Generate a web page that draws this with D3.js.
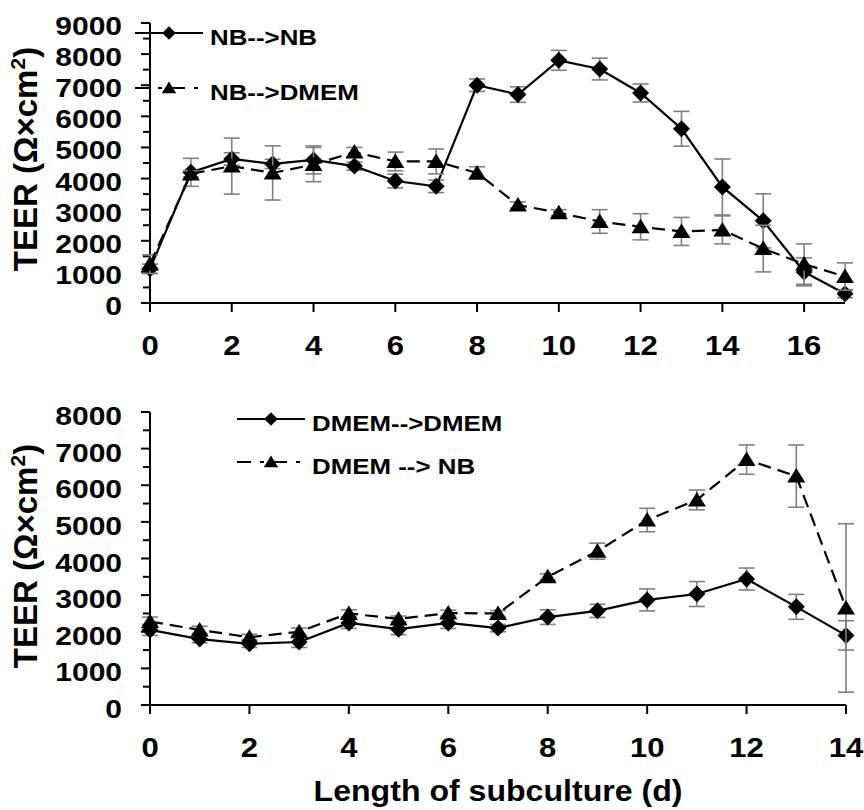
<!DOCTYPE html>
<html>
<head>
<meta charset="utf-8">
<script src="https://cdn.jsdelivr.net/npm/d3@7"></script>
<style>
  body { margin: 0; background: #fff; }
  text { font-family: "Liberation Sans", Arial, sans-serif; font-weight: bold; fill: #000; }
</style>
</head>
<body>
<svg id="chart" width="864" height="810"></svg>
<script>
// ---- data ----
var daysTop = d3.range(0, 18);
var nbNb      = [1100, 4200, 4630, 4470, 4600, 4400, 3920, 3750, 7000, 6700, 7800, 7520, 6750, 5600, 3730, 2640, 1000, 300];
var nbNbErr   = [150, 450, 200, 150, 450, 130, 220, 200, 200, 250, 320, 350, 290, 560, 900, 870, 450, 130];
var nbDmem    = [1250, 4150, 4400, 4180, 4450, 4850, 4550, 4550, 4180, 3150, 2900, 2620, 2450, 2300, 2350, 1750, 1250, 850];
var nbDmemErr = [300, 100, 900, 870, 550, 150, 300, 400, 200, 100, 100, 380, 420, 450, 450, 750, 650, 440];

var daysBottom = d3.range(0, 15);
var dmemDmem    = [2050, 1800, 1670, 1720, 2240, 2070, 2240, 2100, 2400, 2570, 2870, 3030, 3440, 2680, 1900];
var dmemDmemErr = [150, 100, 100, 150, 150, 150, 150, 100, 200, 180, 300, 340, 300, 340, 400];
var dmemNb      = [2280, 2050, 1850, 2000, 2500, 2350, 2510, 2500, 3500, 4200, 5050, 5600, 6700, 6250, 2650];
var dmemNbErr   = [120, 100, 80, 100, 100, 80, 80, 80, 80, 220, 320, 270, 400, 850, 2300];

var xTicksTop = [0, 2, 4, 6, 8, 10, 12, 14, 16];
var xTicksBottom = [0, 2, 4, 6, 8, 10, 12, 14];
var legendTop = ["NB-->NB", "NB-->DMEM"];
var legendBottom = ["DMEM-->DMEM", "DMEM --> NB"];
var xTitle = "Length of subculture (d)";

var svg = d3.select("#chart");

// diamond / triangle marker paths
var diamond = "M0,-8.5L8.5,0L0,8.5L-8.5,0Z";
var triangle = "M0,-8L9,6.5L-9,6.5Z";

//stretched text helper (the picture's text is wider than plain Arial)
function label(g, x, y, str, size, sx, anchor) {
  return g.append("text")
    .attr("transform", "translate(" + x + "," + y + ") scale(" + sx + ",1)")
    .attr("text-anchor", anchor)
    .style("font-size", size + "px")
    .text(str);
}

function yTitle(g, x, y) {
  var t = g.append("text")
    .attr("transform", "translate(" + x + "," + y + ") rotate(-90)")
    .attr("text-anchor", "middle")
    .style("font-size", "33px");
  t.append("tspan").text("TEER (Ω×cm");
  t.append("tspan").attr("dy", "-12").style("font-size", "21px").text("2");
  t.append("tspan").attr("dy", "12").text(")");
}

function drawPanel(p) {
  var g = svg.append("g");
  var x = d3.scaleLinear().domain([0, p.xMax]).range([150, p.xRight]);
  var y = d3.scaleLinear().domain([0, p.yMax]).range([p.y0, p.yTop]);

  // y axis
  g.append("line").attr("x1", 150).attr("x2", 150)
    .attr("y1", y(p.yMax)).attr("y2", p.y0 + 9)
    .attr("stroke", "#000").attr("stroke-width", 2);
  var minor = d3.range(0, p.yMax + 1, 500);
  g.selectAll(".ytick").data(minor).enter().append("line")
    .attr("x1", function(d) { return d % 1000 === 0 ? 141 : 143; })
    .attr("x2", 150)
    .attr("y1", function(d) { return y(d); })
    .attr("y2", function(d) { return y(d); })
    .attr("stroke", "#000").attr("stroke-width", 2);
  d3.range(0, p.yMax + 1, 1000).forEach(function(v) {
    label(g, 122, y(v) + p.yLabDy, v, 25, 1.2, "end");
  });

  // x axis
  g.append("line").attr("x1", 141).attr("x2", x(p.xMax))
    .attr("y1", p.y0).attr("y2", p.y0)
    .attr("stroke", "#000").attr("stroke-width", 2);
  g.selectAll(".xtick").data(p.xTicks).enter().append("line")
    .attr("x1", function(d) { return x(d); })
    .attr("x2", function(d) { return x(d); })
    .attr("y1", p.y0).attr("y2", p.y0 + 9)
    .attr("stroke", "#000").attr("stroke-width", 2);
  p.xTicks.forEach(function(d) {
    label(g, x(d), p.y0 + 52, d, 27, 1.15, "middle");
  });

  yTitle(g, 37, p.titleY);

  p.series.forEach(function(s) {
    var pts = p.days.map(function(d, i) { return {d: d, v: s.vals[i], e: s.err[i]}; });

    // error bars
    var eb = g.append("g").attr("stroke", "#808080").attr("stroke-width", 1.6);
    pts.forEach(function(pt) {
      var cx = x(pt.d), hi = y(pt.v + pt.e), lo = y(Math.max(pt.v - pt.e, 0));
      eb.append("line").attr("x1", cx).attr("x2", cx).attr("y1", hi).attr("y2", lo);
      eb.append("line").attr("x1", cx - 8).attr("x2", cx + 8).attr("y1", hi).attr("y2", hi);
      eb.append("line").attr("x1", cx - 8).attr("x2", cx + 8).attr("y1", lo).attr("y2", lo);
    });

    var line = d3.line().x(function(pt) { return x(pt.d); }).y(function(pt) { return y(pt.v); });
    g.append("path").datum(pts)
      .attr("d", line)
      .attr("fill", "none").attr("stroke", "#000").attr("stroke-width", 2.2)
      .attr("stroke-dasharray", s.dash ? "13,7" : null);

    g.selectAll(null).data(pts).enter().append("path")
      .attr("d", s.marker)
      .attr("transform", function(pt) { return "translate(" + x(pt.d) + "," + y(pt.v) + ")"; })
      .attr("fill", "#000");
  });

  // legend
  p.series.forEach(function(s, i) {
    var ly = p.legY[i], lx = p.legX;
    g.append("line").attr("x1", lx).attr("x2", lx + 68).attr("y1", ly).attr("y2", ly)
      .attr("stroke", "#000").attr("stroke-width", 2.2)
      .attr("stroke-dasharray", s.dash ? "14,9,4,9" : null)
      .attr("stroke-dashoffset", s.dash ? 0 : null);
    g.append("path").attr("d", s.marker)
      .attr("transform", "translate(" + (lx + 34) + "," + ly + ") scale(0.8)")
      .attr("fill", "#000");
    label(g, lx + 75, ly + 12, s.name, 22.5, 1.15, "start");
  });
}

drawPanel({
  days: daysTop, xMax: 17, xRight: 845, yMax: 9000, y0: 303, yTop: 23,
  xTicks: xTicksTop, yLabDy: 12, titleY: 159,
  legX: 135, legY: [33, 88],
  series: [
    {name: legendTop[0], vals: nbNb, err: nbNbErr, marker: diamond, dash: false},
    {name: legendTop[1], vals: nbDmem, err: nbDmemErr, marker: triangle, dash: true}
  ]
});

drawPanel({
  days: daysBottom, xMax: 14, xRight: 846, yMax: 8000, y0: 705, yTop: 412,
  xTicks: xTicksBottom, yLabDy: 13, titleY: 556,
  legX: 237, legY: [419, 462],
  series: [
    {name: legendBottom[0], vals: dmemDmem, err: dmemDmemErr, marker: diamond, dash: false},
    {name: legendBottom[1], vals: dmemNb, err: dmemNbErr, marker: triangle, dash: true}
  ]
});

label(svg, 498, 801, xTitle, 30, 1.07, "middle");
</script>
</body>
</html>
